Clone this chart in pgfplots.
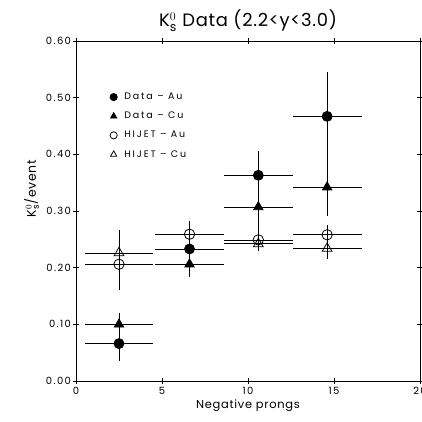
\documentclass[border=0pt]{standalone}
\usepackage{pgfplots}
\pgfplotsset{compat=1.18}
\usepackage{fontspec}
\setmainfont{Poppins}
\newfontfamily\tickfont[LetterSpace=14]{Poppins}
\newfontfamily\legfont[LetterSpace=20]{Poppins}
\newfontfamily\labfont[LetterSpace=6]{Poppins}
\newfontfamily\titfont[LetterSpace=4]{Poppins}
\begin{document}
\begin{tikzpicture}
\begin{axis}[
  name=ax,
  scale only axis,
  width=344bp, height=340bp,
  xmin=0, xmax=20, ymin=0, ymax=0.6,
  xtick={0,5,10,15,20},
  ytick={0,0.1,0.2,0.3,0.4,0.5,0.6},
  /pgf/number format/assume math mode=true,
  tick label style={font=\tickfont\fontsize{10}{12}\selectfont},
  yticklabel style={xshift=1.5bp, /pgf/number format/.cd,fixed,fixed zerofill,precision=2},
  tick align=center,
  major tick length=6bp,
  axis line style={line width=1pt},
  every tick/.style={black, line width=0.8pt},
  title={\titfont K$^{0}_{\mathrm{s}}$ Data (2.2<y<3.0)},
  title style={font=\fontsize{18}{20}\selectfont, yshift=0bp},
  xlabel={\labfont Negative prongs},
  ylabel={\labfont K$^{0}_{\mathrm{s}}$/event},
  label style={font=\fontsize{11.5}{13}\selectfont},
  ylabel style={font=\fontsize{12.5}{14}\selectfont, at={(ticklabel cs:0.566)}},
  xlabel style={yshift=2bp},
  legend cell align=left,
  legend image post style={mark size=3.6bp},
  legend style={draw=none, fill=none, at={(axis cs:1.97,0.512)}, anchor=north west,
    font=\legfont\fontsize{9.5}{11}\selectfont, row sep=7bp, column sep=5bp, inner sep=0pt},
  every axis plot/.append style={line width=0.8pt},
  error bars/error bar style={line width=0.8pt},
]
\addplot+[only marks, black, mark=*, mark size=5bp, mark options={fill=black},
  error bars/.cd, x dir=both, x explicit, y dir=both, y explicit, error mark=none]
  table[x=x, y=y, x error=ex, y error plus=ep, y error minus=em] {
  x    y     ex  ep    em
  2.5  0.066 2.0 0.030 0.030
  6.6  0.233 2.0 0.020 0.020
  10.6 0.363 2.0 0.043 0.043
  14.6 0.467 2.0 0.078 0.078
};
\addlegendentry{Data – Au}
\addplot+[only marks, black, mark=triangle*, mark size=5.4bp, mark options={fill=black},
  error bars/.cd, x dir=both, x explicit, y dir=both, y explicit, error mark=none]
  table[x=x, y=y, x error=ex, y error plus=ep, y error minus=em] {
  x    y     ex  ep    em
  2.5  0.100 2.0 0.020 0.022
  6.6  0.206 2.0 0.015 0.022
  10.6 0.307 2.0 0.035 0.045
  14.6 0.342 2.0 0.050 0.050
};
\addlegendentry{Data – Cu}
\addplot+[only marks, black, mark=o, mark size=5.2bp, mark options={fill=white},
  error bars/.cd, x dir=both, x explicit, y dir=both, y explicit, error mark=none]
  table[x=x, y=y, x error=ex, y error plus=ep, y error minus=em] {
  x    y     ex  ep    em
  2.5  0.206 2.0 0.046 0.046
  6.6  0.259 2.0 0.023 0.023
  10.6 0.249 2.0 0.012 0.012
  14.6 0.258 2.0 0.018 0.018
};
\addlegendentry{HIJET – Au}
\addplot+[only marks, black, mark=triangle, mark size=5.6bp, mark options={fill=white},
  error bars/.cd, x dir=both, x explicit, y dir=both, y explicit, error mark=none]
  table[x=x, y=y, x error=ex, y error plus=ep, y error minus=em] {
  x    y     ex  ep    em
  2.5  0.226 2.0 0.040 0.040
  10.6 0.242 2.0 0.013 0.013
  14.6 0.234 2.0 0.018 0.018
};
\addlegendentry{HIJET – Cu}
\end{axis}
\pgfresetboundingbox
\path[use as bounding box] ([xshift=-76bp,yshift=-41bp]ax.south west) rectangle ([xshift=2bp,yshift=41bp]ax.north east);
\end{tikzpicture}
\end{document}
